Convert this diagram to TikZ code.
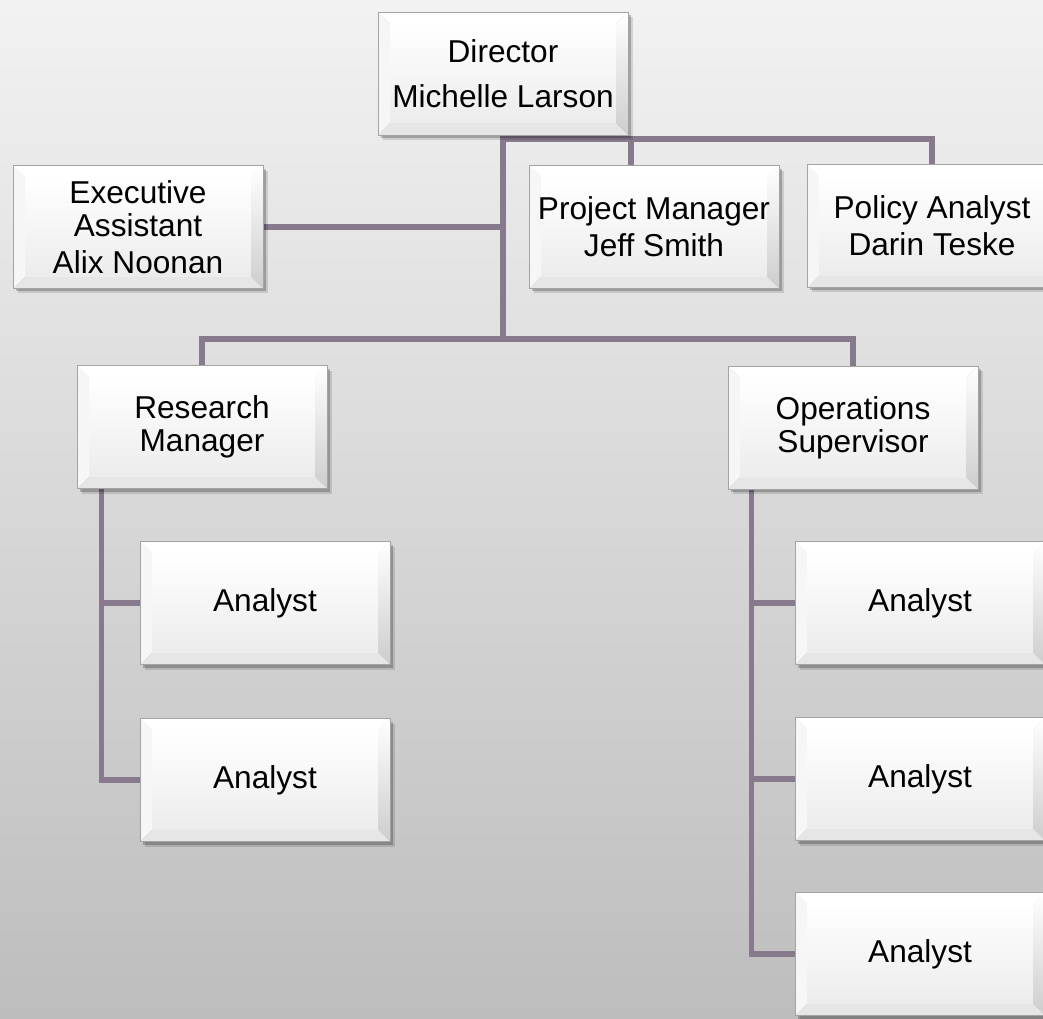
\documentclass[tikz,border=0pt]{standalone}
\usepackage{fontspec}
\setmainfont{Liberation Sans}
\usepackage{xcolor}
\usepackage{tikz}
\usetikzlibrary{shadows,calc}

\definecolor{bgtop}{HTML}{F2F2F2}
\definecolor{bgbot}{HTML}{BDBDBD}
\definecolor{linkcol}{RGB}{134,122,140}
\definecolor{boxedge}{HTML}{A4A4A4}
\definecolor{bevleft}{HTML}{F6F6F6}
\definecolor{bevright}{HTML}{CDCDCD}
\definecolor{bevbottom}{HTML}{E6E6E6}
\definecolor{facebot}{HTML}{ECECEC}

\newcommand\orgfont{\fontsize{18}{18.8}\selectfont}

\pgfdeclarelayer{backdrop}
\pgfdeclarelayer{links}
\pgfsetlayers{backdrop,links,main}

\tikzset{
  orgbox/.style={
    rectangle, draw=boxedge, line width=0.5pt,
    minimum width=5cm, minimum height=2.46cm, inner sep=2pt,
    align=center, font=\orgfont,
    drop shadow={shadow xshift=0.1cm, shadow yshift=-0.1cm, fill=black, opacity=0.12},
    drop shadow={shadow xshift=0.06cm, shadow yshift=-0.06cm, fill=black, opacity=0.22},
    path picture={
      \path (path picture bounding box.south west) coordinate (sw)
            (path picture bounding box.north east) coordinate (ne)
            (path picture bounding box.north west) coordinate (nw)
            (path picture bounding box.south east) coordinate (se)
            ([shift={(0.24cm,0.24cm)}]sw) coordinate (isw)
            ([shift={(-0.24cm,-0.24cm)}]ne) coordinate (ine)
            ([shift={(0.24cm,-0.24cm)}]nw) coordinate (inw)
            ([shift={(-0.24cm,0.24cm)}]se) coordinate (ise);
      \fill[white] (nw) -- (ne) -- (ine) -- (inw) -- cycle;
      \fill[bevleft] (nw) -- (inw) -- (isw) -- (sw) -- cycle;
      \shade[top color=white, bottom color=bevright] (ne) -- (se) -- (ise) -- (ine) -- cycle;
      \fill[bevbottom] (sw) -- (isw) -- (ise) -- (se) -- cycle;
      \shade[top color=white, bottom color=facebot] (isw) rectangle (ine);
    }},
  link/.style={draw=linkcol, line width=3.3pt}
}

\begin{document}
\begin{tikzpicture}[x=0.02cm, y=-0.02cm]
  \useasboundingbox (0,0) rectangle (1043,1018);
  \begin{pgfonlayer}{backdrop}
    \shade[top color=bgtop, bottom color=bgbot] (0,0) rectangle (1043,1018);
  \end{pgfonlayer}

  % top level
  \node[orgbox] (dir) at (503,73.5) {Director\\[6.8pt]Michelle Larson};
  \node[orgbox] (ea) at (138,227) {Executive\\Assistant\\[2.2pt]Alix Noonan};
  \node[orgbox] (pm) at (654,227) {Project Manager\\[2.2pt]Jeff Smith};
  \node[orgbox] (pa) at (932,226) {Policy Analyst\\[2.2pt]Darin Teske};

  % managers
  \node[orgbox] (rm) at (202,427) {Research\\Manager};
  \node[orgbox] (os) at (853,427.5) {Operations\\Supervisor};

  % analysts
  \foreach \n/\y in {1/603,2/780} {
    \node[orgbox] (ra\n) at (265,\y) {Analyst};
  }
  \foreach \n/\y in {1/603,2/779,3/954} {
    \node[orgbox] (oa\n) at (920,\y) {Analyst};
  }

  % connectors
  \coordinate (j1) at (503,139);
  \coordinate (j2) at (503,339);
  \coordinate (pmtap) at ([xshift=-0.46cm]pm.north);
  \coordinate (rmtap) at ([xshift=0.5cm]rm.south west);
  \coordinate (ostap) at ([xshift=0.48cm]os.south west);
  \begin{pgfonlayer}{links}
    \draw[link] (dir.south) -- (j2);
    \draw[link] (j1) -| (pa.north);
    \draw[link] (pmtap |- j1) -- (pmtap);
    \draw[link] (ea.east) -- (ea.east -| j2);
    \draw[link] (rm.north) |- (j2) -| (os.north);
    \draw[link] (rmtap) |- (ra2.west);
    \draw[link] (rmtap |- ra1.west) -- (ra1.west);
    \draw[link] (ostap) |- (oa3.west);
    \foreach \n in {1,2} {
      \draw[link] (ostap |- oa\n.west) -- (oa\n.west);
    }
  \end{pgfonlayer}
\end{tikzpicture}
\end{document}
